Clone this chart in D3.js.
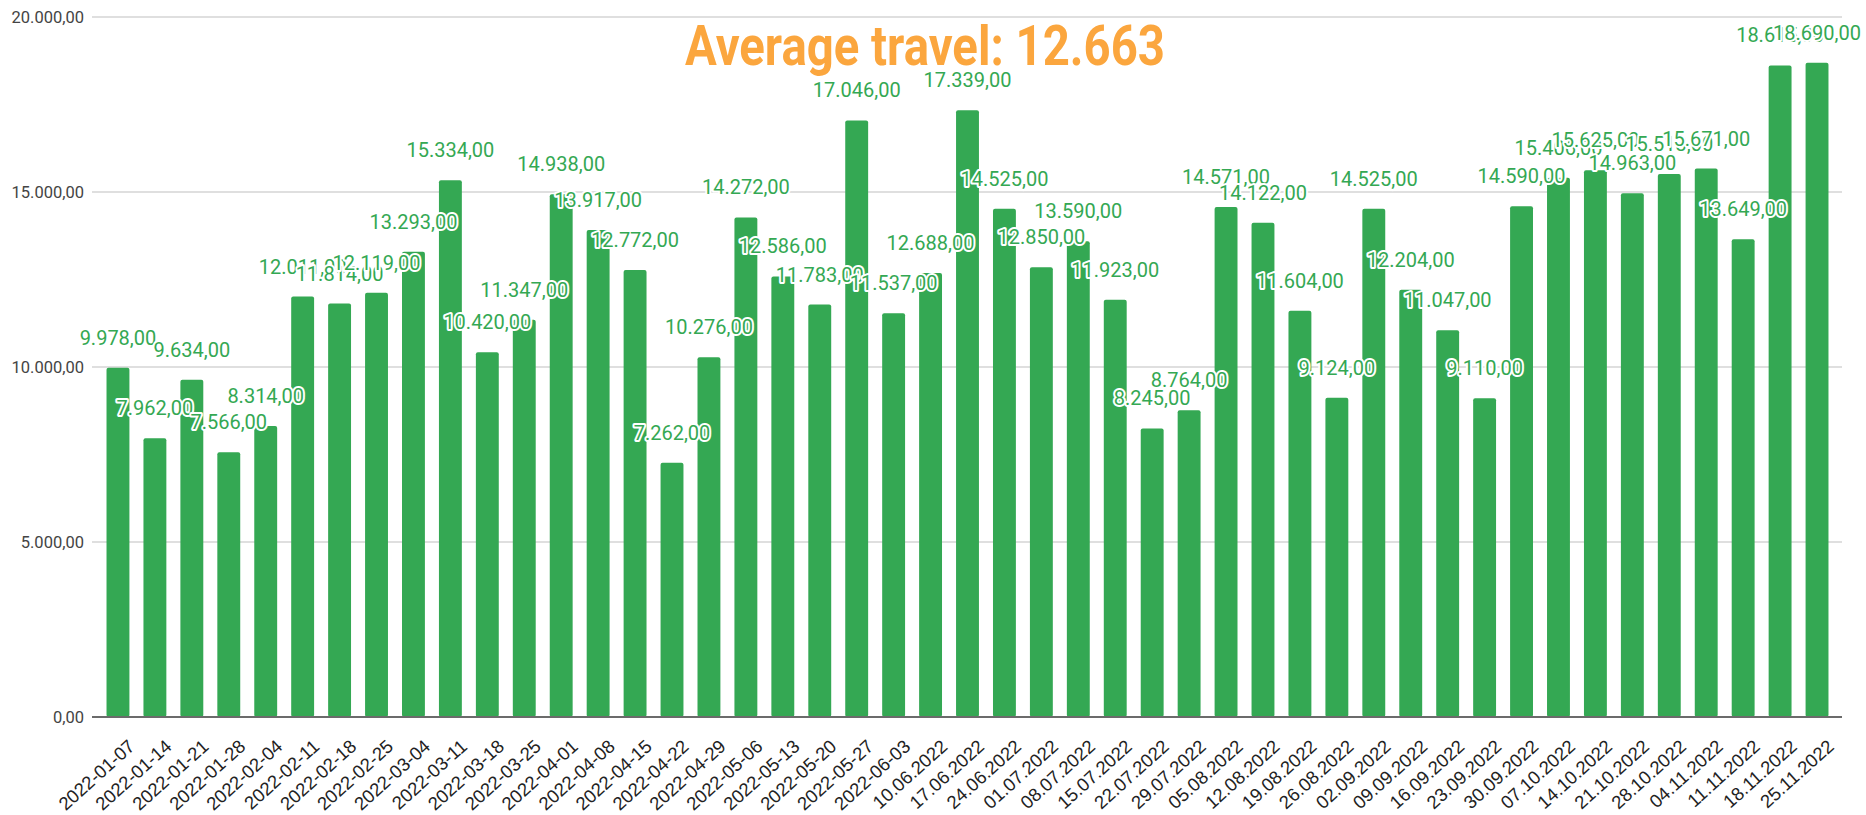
<html>
<head>
<meta charset="utf-8">
<script src="https://d3js.org/d3.v7.min.js"></script>
<style>
  body { margin: 0; background: #fff; }
  svg { display: block; }
</style>
</head>
<body>
<div id="chart"></div>
<script>
// weekly totals
var dates = ["2022-01-07","2022-01-14","2022-01-21","2022-01-28","2022-02-04","2022-02-11","2022-02-18","2022-02-25",
  "2022-03-04","2022-03-11","2022-03-18","2022-03-25","2022-04-01","2022-04-08","2022-04-15","2022-04-22","2022-04-29",
  "2022-05-06","2022-05-13","2022-05-20","2022-05-27","2022-06-03","10.06.2022","17.06.2022","24.06.2022",
  "01.07.2022","08.07.2022","15.07.2022","22.07.2022","29.07.2022","05.08.2022","12.08.2022","19.08.2022","26.08.2022",
  "02.09.2022","09.09.2022","16.09.2022","23.09.2022","30.09.2022","07.10.2022","14.10.2022","21.10.2022","28.10.2022",
  "04.11.2022","11.11.2022","18.11.2022","25.11.2022"];
var values = [9978,7962,9634,7566,8314,12011,11814,12119,
  13293,15334,10420,11347,14938,13917,12772,7262,10276,
  14272,12586,11783,17046,11537,12688,17339,14525,
  12850,13590,11923,8245,8764,14571,14122,11604,9124,
  14525,12204,11047,9110,14590,15406,15625,14963,15513,
  15671,13649,18615,18690];
var yTicks = [0,5000,10000,15000,20000];
var title = "Average travel: 12.663";

var W = 1866, H = 815;
var locale = d3.formatLocale({decimal: ",", thousands: ".", grouping: [3], currency: ["", ""]});
var fmt = locale.format(",.2f");

var svg = d3.select("#chart").append("svg")
  .attr("width", W)
  .attr("height", H);

var x = d3.scaleBand()
  .domain(dates)
  .range([99.5, 1835.5])
  .paddingInner(0.38)
  .paddingOuter(0.19);

var y = d3.scaleLinear()
  .domain([0, 20000])
  .range([717, 17]);

// gridlines
svg.append("g").selectAll("line")
  .data(yTicks.filter(function(d) { return d > 0; }))
  .enter().append("line")
  .attr("x1", 92).attr("x2", 1842)
  .attr("y1", function(d) { return y(d); })
  .attr("y2", function(d) { return y(d); })
  .attr("stroke", "#d4d4d4")
  .attr("stroke-width", 1.5);

// y axis labels
var yAxis = d3.axisLeft(y).tickValues(yTicks).tickSize(0).tickPadding(0)
  .tickFormat(function(d) { return fmt(d); });
svg.append("g")
  .attr("transform", "translate(84,0)")
  .call(yAxis)
  .call(function(g) { g.select(".domain").remove(); })
  .selectAll("text")
  .attr("fill", "#444")
  .style("font-family", "Roboto, sans-serif")
  .style("font-size", "16.5px");

// bars
svg.append("g").selectAll("rect")
  .data(values)
  .enter().append("rect")
  .attr("x", function(d, i) { return x(dates[i]); })
  .attr("y", function(d) { return y(d); })
  .attr("width", x.bandwidth())
  .attr("height", function(d) { return y(0) - y(d); })
  .attr("rx", 2)
  .attr("fill", "#34a853");

// baseline
svg.append("line")
  .attr("x1", 92).attr("x2", 1842)
  .attr("y1", y(0)).attr("y2", y(0))
  .attr("stroke", "#6b6b6b")
  .attr("stroke-width", 2);

// x labels
var xAxis = d3.axisBottom(x).tickSize(0).tickPadding(0);
svg.append("g")
  .attr("transform", "translate(0," + y(0) + ")")
  .call(xAxis)
  .call(function(g) { g.select(".domain").remove(); })
  .selectAll("text")
  .attr("fill", "#222")
  .style("font-family", "Arial, 'Liberation Sans', sans-serif")
  .style("font-size", "18.5px")
  .attr("text-anchor", "end")
  .attr("dy", 0)
  .attr("transform", "translate(18,31) rotate(-42)");

// value labels
svg.append("g").selectAll("text")
  .data(values)
  .enter().append("text")
  .attr("x", function(d, i) { return x(dates[i]) + x.bandwidth() / 2; })
  .attr("y", function(d) { return y(d) - 23; })
  .attr("text-anchor", "middle")
  .attr("fill", "#34a853")
  .attr("stroke", "#fff")
  .attr("stroke-width", 4)
  .attr("stroke-linejoin", "round")
  .attr("paint-order", "stroke")
  .style("font-family", "Roboto, sans-serif")
  .style("font-size", "20px")
  .text(function(d) { return fmt(d); });

// title
svg.append("text")
  .attr("x", 925)
  .attr("y", 65)
  .attr("text-anchor", "middle")
  .attr("fill", "#fba63e")
  .attr("textLength", 480)
  .attr("lengthAdjust", "spacingAndGlyphs")
  .style("font-family", "Roboto, sans-serif")
  .style("font-weight", "700")
  .style("font-size", "56px")
  .text(title);
</script>
</body>
</html>
